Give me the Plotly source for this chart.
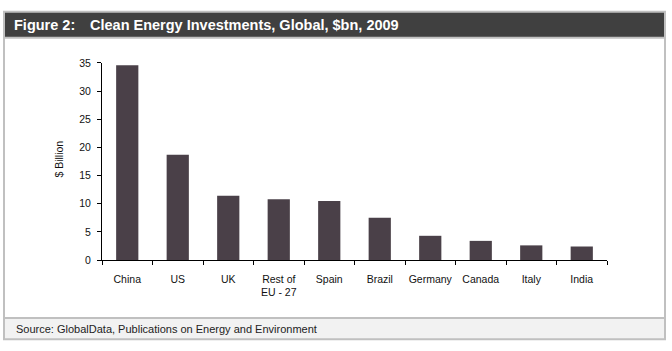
import plotly.graph_objects as go

categories = ["China", "US", "UK", "Rest of<br>EU - 27", "Spain", "Brazil", "Germany", "Canada", "Italy", "India"]
values = [34.6, 18.7, 11.4, 10.8, 10.5, 7.5, 4.3, 3.4, 2.6, 2.4]
y_ticks = [0, 5, 10, 15, 20, 25, 30, 35]

W, H = 672, 351
def px(x):
    return x / W
def py(y):
    return 1 - y / H

FONT = "Arial, Liberation Sans, sans-serif"

fig = go.Figure()
fig.add_trace(go.Bar(x=categories, y=values, marker=dict(color="#4a4048", line=dict(width=0)), width=0.44))

shapes = [
    dict(type="rect", xref="paper", yref="paper", x0=px(4), x1=px(665), y0=py(32), y1=py(6),
         fillcolor="#404040", line=dict(width=0), layer="below"),
    dict(type="rect", xref="paper", yref="paper", x0=px(4), x1=px(665), y0=py(345), y1=py(323),
         fillcolor="#f2f2f2", line=dict(width=0), layer="below"),
    dict(type="line", xref="paper", yref="paper", x0=px(4), x1=px(665), y0=py(33), y1=py(33),
         line=dict(color="#c0c0c0", width=2)),
    dict(type="line", xref="paper", yref="paper", x0=px(4), x1=px(665), y0=py(323), y1=py(323),
         line=dict(color="#c0c0c0", width=2)),
    dict(type="rect", xref="paper", yref="paper", x0=px(4), x1=px(665), y0=py(345), y1=py(6),
         line=dict(color="#c0c0c0", width=2), fillcolor="rgba(0,0,0,0)"),
]

annotations = [
    dict(text="<b>Figure 2:</b>", x=px(12), y=py(19.5), xref="paper", yref="paper",
         xanchor="left", yanchor="middle", showarrow=False,
         font=dict(family=FONT, size=14.5, color="white")),
    dict(text="<b>Clean Energy Investments, Global, $bn, 2009</b>", x=px(88), y=py(19.5), xref="paper", yref="paper",
         xanchor="left", yanchor="middle", showarrow=False,
         font=dict(family=FONT, size=14.5, color="white")),
    dict(text="Source: GlobalData, Publications on Energy and Environment", x=px(14), y=py(334.5),
         xref="paper", yref="paper", xanchor="left", yanchor="middle", showarrow=False,
         font=dict(family=FONT, size=11, color="#222222")),
    dict(text="$ Billion", x=px(59), y=py(158), xref="paper", yref="paper", textangle=-90,
         xanchor="center", yanchor="middle", showarrow=False,
         font=dict(family=FONT, size=10.5, color="#111111")),
]

fig.update_layout(
    width=W, height=H, margin=dict(l=0, r=0, t=0, b=0),
    paper_bgcolor="white", plot_bgcolor="white",
    showlegend=False, shapes=shapes, annotations=annotations,
    xaxis=dict(domain=[px(102), px(607)], showline=True, linecolor="black", linewidth=1,
               ticks="outside", ticklen=4, tickcolor="black", tickson="boundaries",
               ticklabelstandoff=9, tickangle=0,
               showgrid=False, tickfont=dict(family=FONT, size=10.5, color="#111111"),
               fixedrange=True),
    yaxis=dict(domain=[py(263), py(59)], range=[0, 35], tickvals=y_ticks,
               showline=True, linecolor="black", linewidth=1, ticks="outside", ticklen=4,
               tickcolor="black", showgrid=False, zeroline=False, ticklabelstandoff=4,
               tickfont=dict(family=FONT, size=10.5, color="#111111"), fixedrange=True),
)

fig.write_html("out.html")
